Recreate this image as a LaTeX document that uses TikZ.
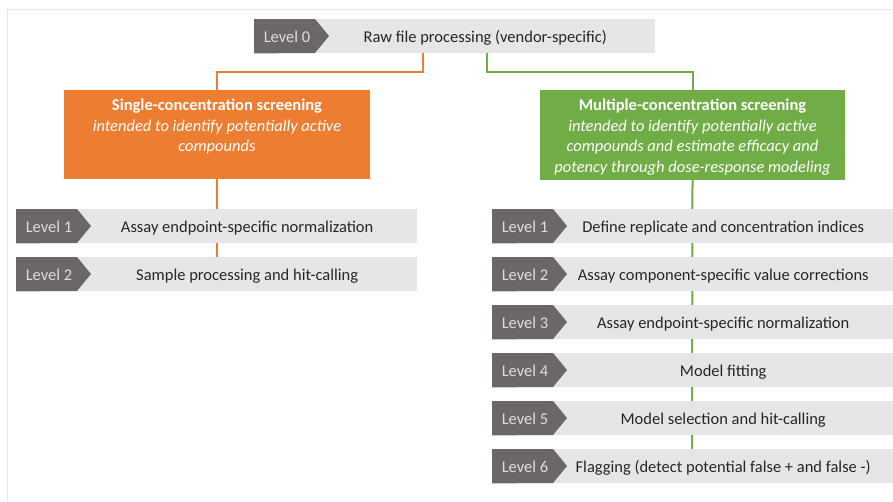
\documentclass[tikz,border=0pt]{standalone}
\usepackage{fontspec}
\setmainfont{Carlito}
\usetikzlibrary{calc}
\definecolor{lvdark}{HTML}{6B6766}
\definecolor{lvbar}{HTML}{E6E6E6}
\definecolor{orng}{HTML}{ED7D31}
\definecolor{grn}{HTML}{70AD47}
\definecolor{txt}{HTML}{262626}
\definecolor{lvtxt}{HTML}{DCDCDC}
\definecolor{framec}{HTML}{E6E6E6}
\newcommand\lvlrow[6]{%
  \node[barbox, minimum width=#4pt] (#1) at (#2,#3) {};
  \fill[lvdark] (#1.north west) -- ++(61,0) -- ++(14,17) -- ++(-14,17) -- (#1.south west) -- cycle;
  \node[lvlabel] (#1-l) at ($(#1.north west)+(33,23)$) {#5};
  \node[bartext] (#1-t) at ($(#1.north)+(30.5,23)$) {#6};
}
\begin{document}
\begin{tikzpicture}[x=1pt,y=-1pt,
  barbox/.style={fill=lvbar, minimum height=34pt, inner sep=0pt, anchor=north west, draw=none},
  lvlabel/.style={text=lvtxt, font=\fontsize{16.5}{18}\selectfont, inner sep=0pt, anchor=base},
  bartext/.style={text=txt, font=\fontsize{16.5}{18}\selectfont, inner sep=0pt, anchor=base},
  catbox/.style={minimum height=#1, inner sep=0pt, draw=none},
  cattext/.style={text=white, align=center, inner sep=0pt, font=\fontsize{16.5}{20.5}\selectfont, anchor=north},
  oline/.style={draw=orng, line width=2pt},
  gline/.style={draw=grn, line width=2pt}
]
\useasboundingbox (0,0) rectangle (893,501);
\fill[white] (0,0) rectangle (893,501);
\draw[framec, line width=1pt] (7,501) -- (7,9) -- (893,9);

% category boxes
\node[catbox=89pt, fill=orng, minimum width=306pt] (sc) at (217,134.5) {};
\node[catbox=90pt, fill=grn, minimum width=305pt] (mc) at (692.5,135) {};

\lvlrow{L0}{254}{19}{401}{Level 0}{Raw file processing (vendor-specific)}

\draw[oline] ([xshift=-31.5pt]L0.south) -- ++(0,19) -| (sc.north);
\draw[gline] ([xshift=32.5pt]L0.south) -- ++(0,19) -| (mc.north);

% column connectors, drawn behind the level bars
\coordinate (lend) at (217,257);
\coordinate (rend) at (692,449);
\draw[oline] (sc.south) -- (lend);
\draw[gline] (mc.south) -- (rend);

\lvlrow{A1}{16}{209}{401}{Level 1}{Assay endpoint-specific normalization}
\lvlrow{A2}{16}{257}{401}{Level 2}{Sample processing and hit-calling}

\lvlrow{B1}{492}{209}{401}{Level 1}{Define replicate and concentration indices}
\lvlrow{B2}{492}{257}{401}{Level 2}{Assay component-specific value corrections}
\lvlrow{B3}{492}{305}{401}{Level 3}{Assay endpoint-specific normalization}
\lvlrow{B4}{492}{353}{401}{Level 4}{Model fitting}
\lvlrow{B5}{492}{401}{401}{Level 5}{Model selection and hit-calling}
\lvlrow{B6}{492}{449}{401}{Level 6}{Flagging (detect potential false + and false -)}

\node[cattext] (sct) at ($(sc.north)+(0,9)$) {\textbf{Single-concentration screening}\\\textit{intended to identify potentially active}\\\textit{compounds}};
\node[cattext] (mct) at ($(mc.north)+(0,9)$) {\textbf{Multiple-concentration screening}\\\textit{intended to identify potentially active}\\\textit{compounds and estimate efficacy and}\\\textit{potency through dose-response modeling}};
\end{tikzpicture}
\end{document}
